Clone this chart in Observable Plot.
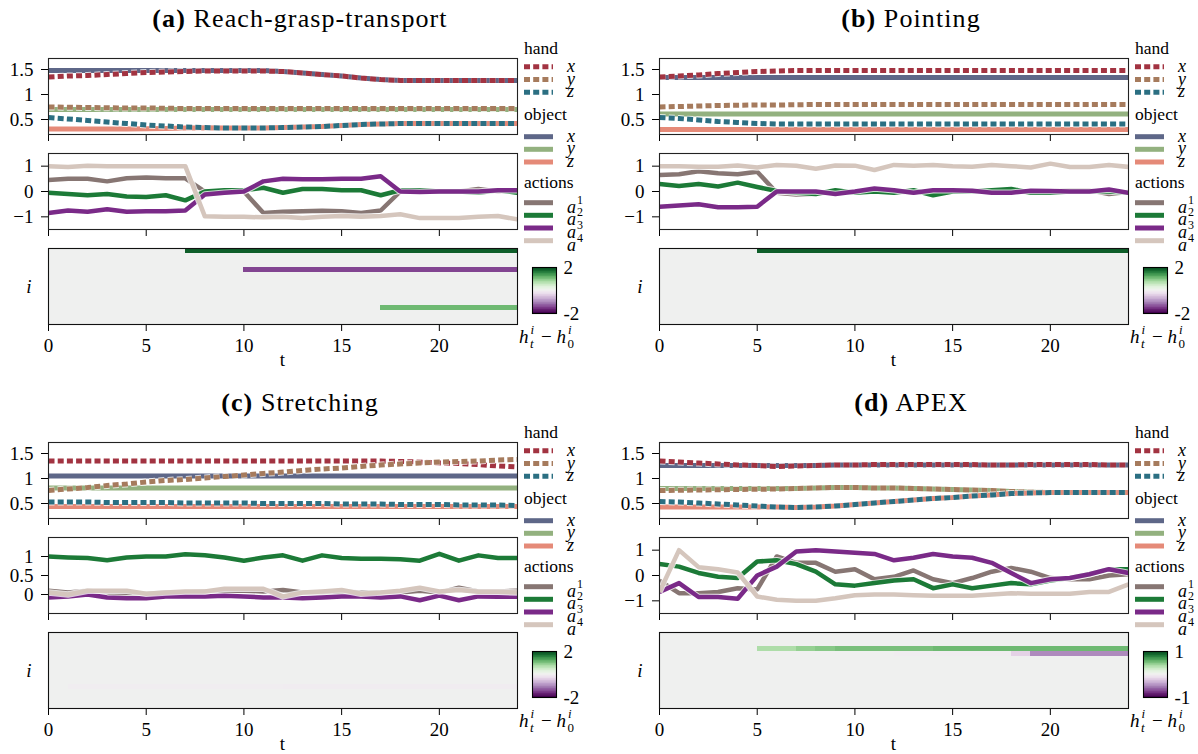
<!DOCTYPE html>
<html><head><meta charset="utf-8">
<script src="https://cdn.jsdelivr.net/npm/d3@7"></script>
<script src="https://cdn.jsdelivr.net/npm/@observablehq/plot@0.6"></script>
<style>
html,body{margin:0;padding:0;background:#fff;}
#root{position:relative;width:1198px;height:754px;overflow:hidden;background:#fff;}
#root svg{position:absolute;}
</style></head><body><div id="root"></div>
<script>
// ---------------- DATA ----------------
const tTicks = [0, 5, 10, 15, 20];
const posTicks = [0.5, 1, 1.5];
const posDomain = [0.2, 1.72];
const actTicksWide = [-1, 0, 1];
const actTicksNarrow = [0, 0.5, 1];
const handKeys = ["x", "y", "z"];
const objectKeys = ["x", "y", "z"];
const actionKeys = ["1", "2", "3", "4"];
const handColors = ["#a23341", "#a67b5d", "#2b6f82"];
const objectColors = ["#5e6788", "#93b17f", "#e58a78"];
const actionColors = ["#877673", "#1c7a37", "#7a2a88", "#d5c6bd"];

// (a) Reach-grasp-transport
const a_handX = [1.35,1.37,1.38,1.40,1.42,1.44,1.45,1.46,1.47,1.47,1.47,1.47,1.46,1.43,1.40,1.37,1.33,1.30,1.28,1.28,1.28,1.28,1.28,1.28,1.28];
const a_handY = [0.75,0.745,0.74,0.735,0.73,0.73,0.725,0.72,0.72,0.72,0.72,0.72,0.72,0.72,0.72,0.72,0.72,0.72,0.72,0.72,0.72,0.72,0.72,0.72,0.72];
const a_handZ = [0.54,0.51,0.48,0.45,0.42,0.39,0.37,0.35,0.34,0.33,0.33,0.33,0.34,0.35,0.36,0.38,0.40,0.41,0.42,0.42,0.42,0.42,0.42,0.42,0.42];
const a_objX = [1.48,1.48,1.48,1.48,1.48,1.48,1.48,1.48,1.48,1.48,1.48,1.48,1.46,1.43,1.40,1.37,1.33,1.30,1.28,1.28,1.28,1.28,1.28,1.28,1.28];
const a_objY = [0.70,0.70,0.70,0.70,0.70,0.70,0.70,0.70,0.70,0.70,0.70,0.70,0.70,0.70,0.70,0.70,0.70,0.70,0.70,0.70,0.70,0.70,0.70,0.70,0.70];
const a_objZ = [0.31,0.31,0.31,0.31,0.31,0.315,0.32,0.33,0.335,0.33,0.33,0.33,0.34,0.35,0.36,0.38,0.40,0.41,0.42,0.42,0.42,0.42,0.42,0.42,0.42];
const a_act1 = [0.45,0.5,0.5,0.4,0.52,0.55,0.52,0.52,0.0,0.0,0.0,-0.85,-0.8,-0.78,-0.76,-0.78,-0.85,-0.75,0.0,0.05,0.0,0.0,0.1,0.0,0.05];
const a_act2 = [-0.05,-0.1,-0.15,-0.1,-0.2,-0.22,-0.15,-0.35,0.0,0.05,0.05,0.15,-0.05,0.1,0.1,0.05,0.05,-0.15,0.05,0.05,0.0,0.0,-0.05,0.05,-0.05];
const a_act3 = [-0.85,-0.75,-0.8,-0.7,-0.8,-0.78,-0.78,-0.75,-0.12,-0.05,0.0,0.4,0.5,0.48,0.48,0.5,0.5,0.6,0.0,-0.02,0.0,0.0,0.0,0.05,0.05];
const a_act4 = [1.0,0.97,1.02,1.0,1.0,1.0,1.0,1.0,-0.98,-1.0,-1.0,-1.02,-1.0,-1.05,-1.0,-0.97,-1.0,-0.97,-0.9,-1.05,-1.05,-1.05,-1.0,-0.97,-1.1];
const a_heatRows = [0, 4, 12];
const a_heatVals = [
  [0,0,0,0,0,0,0,1.8,1.8,1.8,1.8,1.8,1.8,1.8,1.8,1.8,1.8,1.8,1.8,1.8,1.8,1.8,1.8,1.8],
  [0,0,0,0,0,0,0,0,0,0,-1.45,-1.45,-1.45,-1.45,-1.45,-1.45,-1.45,-1.45,-1.45,-1.45,-1.45,-1.45,-1.45,-1.45],
  [0,0,0,0,0,0,0,0,0,0,0,0,0,0,0,0,0,1.1,1.1,1.1,1.1,1.1,1.1,1.1]
];
const a_cbar = [-2, 2];

// (b) Pointing
const b_handX = [1.35,1.37,1.39,1.42,1.44,1.46,1.47,1.48,1.48,1.48,1.48,1.48,1.48,1.48,1.48,1.48,1.48,1.48,1.48,1.48,1.48,1.48,1.48,1.48,1.48];
const b_handY = [0.75,0.76,0.77,0.78,0.785,0.79,0.79,0.795,0.80,0.80,0.80,0.80,0.80,0.80,0.80,0.80,0.80,0.80,0.80,0.80,0.80,0.80,0.80,0.80,0.80];
const b_handZ = [0.54,0.52,0.49,0.46,0.44,0.42,0.41,0.41,0.41,0.41,0.41,0.41,0.41,0.41,0.41,0.41,0.41,0.41,0.41,0.41,0.41,0.41,0.41,0.41,0.41];
const b_objX = [1.34,1.34,1.34,1.34,1.34,1.34,1.34,1.34,1.34,1.34,1.34,1.34,1.34,1.34,1.34,1.34,1.34,1.34,1.34,1.34,1.34,1.34,1.34,1.34,1.34];
const b_objY = [0.61,0.61,0.61,0.61,0.61,0.61,0.61,0.61,0.61,0.61,0.61,0.61,0.61,0.61,0.61,0.61,0.61,0.61,0.61,0.61,0.61,0.61,0.61,0.61,0.61];
const b_objZ = [0.30,0.30,0.30,0.30,0.30,0.30,0.30,0.30,0.30,0.30,0.30,0.30,0.30,0.30,0.30,0.30,0.30,0.30,0.30,0.30,0.30,0.30,0.30,0.30,0.30];
const b_act1 = [0.65,0.68,0.8,0.72,0.68,0.78,-0.05,-0.12,-0.1,0.0,-0.05,0.05,0.0,-0.05,0.0,0.02,0.05,0.0,0.05,-0.05,0.0,0.05,0.05,-0.1,-0.02];
const b_act2 = [0.3,0.22,0.3,0.2,0.35,0.18,0.02,-0.05,-0.1,0.05,-0.05,0.0,-0.05,0.05,-0.15,0.0,0.0,0.05,0.1,-0.05,-0.05,0.0,0.0,0.0,-0.05];
const b_act3 = [-0.6,-0.55,-0.5,-0.62,-0.62,-0.6,0.0,0.0,0.0,-0.1,0.0,0.12,0.05,-0.05,0.05,0.05,0.03,-0.05,-0.05,0.03,0.02,0.0,0.0,0.08,-0.05];
const b_act4 = [1.0,1.0,0.98,0.98,1.03,0.95,1.05,1.02,0.9,1.03,1.02,0.85,1.05,1.02,1.05,1.0,0.98,1.05,1.0,0.95,1.1,0.97,0.97,1.05,0.97];
const b_heatRows = [0];
const b_heatVals = [
  [0,0,0,0,0,1.8,1.8,1.8,1.8,1.8,1.8,1.8,1.8,1.8,1.8,1.8,1.8,1.8,1.8,1.8,1.8,1.8,1.8,1.8]
];
const b_cbar = [-2, 2];

// (c) Stretching
const c_handX = [1.35,1.35,1.35,1.35,1.35,1.35,1.35,1.35,1.35,1.35,1.35,1.35,1.35,1.35,1.35,1.35,1.35,1.35,1.34,1.33,1.31,1.30,1.28,1.25,1.23];
const c_handY = [0.76,0.79,0.82,0.86,0.89,0.93,0.96,0.98,1.01,1.04,1.07,1.10,1.13,1.16,1.19,1.21,1.24,1.27,1.29,1.31,1.33,1.34,1.35,1.37,1.38];
const c_handZ = [0.53,0.53,0.53,0.52,0.52,0.52,0.52,0.51,0.51,0.51,0.51,0.50,0.50,0.50,0.50,0.49,0.49,0.49,0.48,0.48,0.48,0.47,0.47,0.47,0.46];
const c_objX = [1.05,1.05,1.05,1.05,1.05,1.05,1.05,1.05,1.05,1.05,1.05,1.05,1.05,1.05,1.05,1.05,1.05,1.05,1.05,1.05,1.05,1.05,1.05,1.05,1.05];
const c_objY = [0.81,0.81,0.81,0.81,0.81,0.81,0.81,0.81,0.81,0.81,0.81,0.81,0.81,0.81,0.81,0.81,0.81,0.81,0.81,0.81,0.81,0.81,0.81,0.81,0.81];
const c_objZ = [0.44,0.44,0.44,0.44,0.44,0.44,0.44,0.44,0.44,0.44,0.44,0.44,0.44,0.44,0.44,0.44,0.44,0.44,0.44,0.44,0.44,0.44,0.44,0.44,0.44];
const c_act1 = [0.1,0.05,0.1,0.05,0.0,0.02,0.05,0.05,0.08,0.1,0.1,0.08,0.12,0.05,0.05,0.08,0.05,0.05,0.05,0.1,0.05,0.18,0.08,0.08,0.1];
const c_act2 = [1.0,0.975,0.96,0.90,0.975,1.0,1.0,1.06,1.03,0.975,0.89,0.975,1.03,0.89,1.03,0.96,0.94,0.94,0.93,0.89,1.07,0.89,1.03,0.96,0.96];
const c_act3 = [-0.08,-0.05,0.0,-0.08,-0.1,-0.1,-0.05,-0.05,-0.05,-0.03,-0.05,-0.08,-0.08,-0.1,-0.08,-0.05,-0.05,-0.08,-0.05,-0.15,-0.03,-0.15,-0.05,-0.06,-0.06];
const c_act4 = [0.05,0.0,0.1,0.1,0.1,0.02,0.05,0.08,0.08,0.15,0.15,0.15,-0.05,0.05,0.08,0.12,0.02,0.05,0.1,0.18,0.08,0.12,0.07,0.07,0.05];
const c_heatRows = [11];
const c_heatVals = [
  [0,-0.06,-0.06,-0.06,-0.06,-0.06,-0.06,-0.06,-0.06,-0.06,-0.06,-0.06,-0.08,-0.08,-0.08,-0.08,-0.08,-0.08,-0.08,-0.08,-0.08,-0.08,-0.08,-0.08]
];
const c_cbar = [-2, 2];

// (d) APEX
const d_handX = [1.35,1.33,1.31,1.29,1.27,1.26,1.24,1.25,1.26,1.27,1.27,1.28,1.28,1.28,1.28,1.28,1.28,1.27,1.27,1.28,1.28,1.28,1.28,1.27,1.27];
const d_handY = [0.76,0.765,0.77,0.775,0.78,0.785,0.79,0.80,0.81,0.82,0.82,0.81,0.81,0.80,0.79,0.78,0.77,0.76,0.74,0.73,0.72,0.72,0.72,0.72,0.72];
const d_handZ = [0.54,0.53,0.51,0.49,0.47,0.45,0.43,0.42,0.43,0.45,0.48,0.51,0.54,0.57,0.60,0.62,0.65,0.67,0.70,0.71,0.72,0.72,0.72,0.72,0.72];
const d_objX = [1.26,1.26,1.26,1.26,1.26,1.26,1.26,1.26,1.26,1.27,1.27,1.27,1.27,1.27,1.27,1.27,1.27,1.27,1.27,1.27,1.27,1.27,1.27,1.27,1.27];
const d_objY = [0.80,0.80,0.80,0.80,0.80,0.80,0.80,0.80,0.81,0.82,0.82,0.81,0.81,0.80,0.79,0.78,0.77,0.76,0.74,0.73,0.72,0.72,0.72,0.72,0.72];
const d_objZ = [0.43,0.43,0.43,0.43,0.43,0.43,0.43,0.42,0.43,0.45,0.48,0.51,0.54,0.57,0.60,0.62,0.65,0.67,0.70,0.71,0.72,0.72,0.72,0.72,0.72];
const d_act1 = [-0.2,-0.7,-0.7,-0.65,-0.5,-0.55,0.75,0.5,0.5,0.15,0.25,-0.15,-0.05,0.2,-0.15,-0.3,-0.1,0.15,0.3,0.15,-0.1,-0.15,-0.15,0.0,0.05];
const d_act2 = [0.45,0.35,0.1,-0.05,-0.1,0.55,0.6,0.45,0.15,-0.35,-0.4,-0.3,-0.2,-0.15,-0.5,-0.35,-0.5,-0.4,-0.3,-0.35,-0.2,-0.1,0.05,0.25,0.25];
const d_act3 = [-0.65,-0.3,-0.85,-0.85,-0.92,0.0,0.35,0.95,1.0,0.95,0.9,0.85,0.6,0.7,0.85,0.75,0.7,0.5,0.1,-0.3,-0.15,-0.1,0.05,0.25,0.1];
const d_act4 = [-0.65,1.0,0.33,0.25,0.12,-0.83,-0.96,-1.0,-1.0,-0.9,-0.78,-0.75,-0.75,-0.78,-0.8,-0.8,-0.8,-0.75,-0.7,-0.72,-0.72,-0.72,-0.65,-0.65,-0.35];
const d_heatRows = [3, 4];
const d_heatVals = [
  [0,0,0,0,0,0.36,0.36,0.44,0.48,0.52,0.52,0.52,0.52,0.52,0.55,0.55,0.55,0.55,0.55,0.55,0.55,0.55,0.55,0.55],
  [0,0,0,0,0,0,0,0,0,0,0,0,-0.03,-0.03,-0.03,-0.03,-0.03,-0.03,-0.2,-0.5,-0.5,-0.5,-0.5,-0.5]
];
const d_cbar = [-1, 1];

const panels = [
  {tag: "(a)", name: "Reach-grasp-transport", col: 0, row: 0,
   hand: [a_handX, a_handY, a_handZ], obj: [a_objX, a_objY, a_objZ], act: [a_act1, a_act2, a_act3, a_act4],
   actDomain: [-1.5, 1.5], actTicks: actTicksWide, heatRows: a_heatRows, heatVals: a_heatVals, cbar: a_cbar},
  {tag: "(b)", name: "Pointing", col: 1, row: 0,
   hand: [b_handX, b_handY, b_handZ], obj: [b_objX, b_objY, b_objZ], act: [b_act1, b_act2, b_act3, b_act4],
   actDomain: [-1.5, 1.5], actTicks: actTicksWide, heatRows: b_heatRows, heatVals: b_heatVals, cbar: b_cbar},
  {tag: "(c)", name: "Stretching", col: 0, row: 1,
   hand: [c_handX, c_handY, c_handZ], obj: [c_objX, c_objY, c_objZ], act: [c_act1, c_act2, c_act3, c_act4],
   actDomain: [-0.5, 1.5], actTicks: actTicksNarrow, heatRows: c_heatRows, heatVals: c_heatVals, cbar: c_cbar},
  {tag: "(d)", name: "APEX", col: 1, row: 1,
   hand: [d_handX, d_handY, d_handZ], obj: [d_objX, d_objY, d_objZ], act: [d_act1, d_act2, d_act3, d_act4],
   actDomain: [-1.5, 1.5], actTicks: actTicksWide, heatRows: d_heatRows, heatVals: d_heatVals, cbar: d_cbar}
];

// ---------------- LAYOUT ----------------
const FONT = '"Liberation Serif", "Times New Roman", serif';
const COL_DX = [0, 611];
const ROW_DY = [0, 384];
const FX = 48, FW = 469, FH = 76;
const POS_TOP = 58, ACT_TOP = 153, HEAT_TOP = 248;
const ML = 48, MR = 1, MT = 1, MB = 10;
const DOT = "6,3.2";
const root = document.getElementById("root");
const fmt = d => (d < 0 ? "\u2212" : "") + Math.abs(d);
const baseStyle = {fontFamily: FONT, fontSize: "19px", background: "transparent", overflow: "visible", color: "#000"};

function place(svg, left, top) {
  svg.style.left = left + "px";
  svg.style.top = top + "px";
  svg.style.maxWidth = "none";
  root.appendChild(svg);
}

function lineMarks(values, color, width, dash) {
  const o = {x: (d, i) => i, y: d => d, clip: true, strokeLinejoin: "round", strokeLinecap: "butt"};
  if (dash) o.strokeDasharray = dash;
  return [
    Plot.line(values, {...o, stroke: "white", strokeWidth: width + 2, strokeOpacity: 0.75}),
    Plot.line(values, {...o, stroke: color, strokeWidth: width})
  ];
}

function linePlot(marks, yDomain, yTicks) {
  return Plot.plot({
    width: ML + FW + MR, height: MT + FH + MB,
    marginLeft: ML, marginRight: MR, marginTop: MT, marginBottom: MB,
    style: baseStyle,
    x: {domain: [0, 24], ticks: tTicks, tickSize: 7, tickFormat: () => "", label: null},
    y: {domain: yDomain, ticks: yTicks, tickSize: 7, tickPadding: 8, tickFormat: fmt, label: null},
    marks: [...marks, Plot.frame({stroke: "#222", strokeWidth: 1.1})]
  });
}

for (const p of panels) {
  const dx = COL_DX[p.col], dy = ROW_DY[p.row];
  // positions
  const pm = [];
  p.obj.forEach((v, k) => pm.push(...lineMarks(v, objectColors[k], 5, null)));
  p.hand.forEach((v, k) => pm.push(...lineMarks(v, handColors[k], 5, DOT)));
  place(linePlot(pm, posDomain, posTicks), dx + FX - ML, dy + POS_TOP - MT);
  // actions
  const am = [];
  p.act.forEach((v, k) => am.push(...lineMarks(v, actionColors[k], 4.5, null)));
  place(linePlot(am, p.actDomain, p.actTicks), dx + FX - ML, dy + ACT_TOP - MT);
  // heatmap
  const cells = [];
  for (let r = 0; r < 16; r++) {
    const k = p.heatRows.indexOf(r);
    for (let t = 0; t < 24; t++) cells.push({t, r, v: k >= 0 ? p.heatVals[k][t] : 0});
  }
  const colorOpt = {type: "linear", scheme: "PRGn", domain: p.cbar};
  const heat = Plot.plot({
    width: ML + FW + MR, height: MT + FH + 40,
    marginLeft: ML, marginRight: MR, marginTop: MT, marginBottom: 40,
    style: baseStyle,
    x: {domain: [0, 24], ticks: tTicks, tickSize: 7, tickPadding: 7, tickFormat: d => String(d), label: null},
    y: {domain: [16, 0], axis: null},
    color: colorOpt,
    marks: [
      Plot.rect(cells, {x1: "t", x2: d => d.t + 1, y1: "r", y2: d => d.r + 1, fill: "v", shapeRendering: "crispEdges"}),
      Plot.frame({stroke: "#111", strokeWidth: 1.1})
    ]
  });
  place(heat, dx + FX - ML, dy + HEAT_TOP - MT);
  // colorbar
  const [lo, hi] = p.cbar;
  const bands = d3.range(64).map(i => ({y1: lo + (hi - lo) * i / 64, y2: lo + (hi - lo) * (i + 1) / 64}));
  const cb = Plot.plot({
    width: 24 + 40, height: 46 + 2,
    marginLeft: 0, marginRight: 40, marginTop: 1, marginBottom: 1,
    style: baseStyle,
    x: {domain: [0, 1], axis: null},
    y: {domain: p.cbar, axis: "right", ticks: p.cbar, tickSize: 0, tickPadding: 7, tickFormat: d => String(d), label: null},
    color: colorOpt,
    marks: [
      Plot.rect(bands, {x1: () => 0, x2: () => 1, y1: "y1", y2: "y2", fill: d => (d.y1 + d.y2) / 2, shapeRendering: "crispEdges"}),
      Plot.frame({stroke: "#000", strokeWidth: 1.1})
    ]
  });
  place(cb, dx + 532, dy + 266);
}

// ---------------- OVERLAY TEXT (titles, legends, axis labels) ----------------
const ov = d3.create("svg").attr("width", 1198).attr("height", 754)
  .style("left", "0px").style("top", "0px").style("font-family", FONT).style("pointer-events", "none");

function txt(x, y, s, size, opts = {}) {
  const t = ov.append("text").attr("x", x).attr("y", y).attr("font-size", size)
    .attr("font-family", FONT).text(s);
  if (opts.italic) t.attr("font-style", "italic");
  if (opts.anchor) t.attr("text-anchor", opts.anchor);
  return t;
}

for (const p of panels) {
  const dx = COL_DX[p.col], dy = ROW_DY[p.row];
  // title
  const tt = ov.append("text").attr("x", 300 + dx).attr("y", 27 + dy).attr("text-anchor", "middle")
    .attr("font-family", FONT).attr("font-size", 26).attr("letter-spacing", 1.1);
  tt.append("tspan").attr("font-weight", "bold").text(p.tag);
  tt.append("tspan").text(" " + p.name);
  // legend
  const L = 524 + dx;
  txt(L, 54 + dy, "hand", 17.5);
  const hy = [66.7, 79.5, 92.3];
  hy.forEach((y, k) => {
    ov.append("line").attr("x1", L).attr("x2", L + 29).attr("y1", y + dy).attr("y2", y + dy)
      .attr("stroke", handColors[k]).attr("stroke-width", 5).attr("stroke-dasharray", DOT);
    txt(L + 43, y + 5 + dy, handKeys[k], 18, {italic: true});
  });
  txt(L, 120 + dy, "object", 17.5);
  const oy = [136.7, 149.3, 162];
  oy.forEach((y, k) => {
    ov.append("line").attr("x1", L).attr("x2", L + 29).attr("y1", y + dy).attr("y2", y + dy)
      .attr("stroke", objectColors[k]).attr("stroke-width", 5);
    txt(L + 43, y + 5 + dy, objectKeys[k], 18, {italic: true});
  });
  txt(L, 188 + dy, "actions", 17.5);
  const ay = [202.7, 215.3, 228, 240.7];
  ay.forEach((y, k) => {
    ov.append("line").attr("x1", L).attr("x2", L + 29).attr("y1", y + dy).attr("y2", y + dy)
      .attr("stroke", actionColors[k]).attr("stroke-width", 5);
    txt(L + 43, y + 10 + dy, "a", 18, {italic: true});
    txt(L + 53, y + 1 + dy, actionKeys[k], 12);
  });
  // axis labels
  txt(29 + dx, 293 + dy, "i", 19, {italic: true, anchor: "middle"});
  txt(282.5 + dx, 366 + dy, "t", 19, {anchor: "middle"});
  // colorbar label  h_t^i − h_0^i
  const bx = 519 + dx, by = 343 + dy;
  txt(bx, by, "h", 19, {italic: true});
  txt(bx + 11, by + 4.5, "t", 13, {italic: true});
  txt(bx + 11.5, by - 9, "i", 13, {italic: true});
  txt(bx + 22, by, "\u2212", 19);
  txt(bx + 37.5, by, "h", 19, {italic: true});
  txt(bx + 48.5, by + 4.5, "0", 13);
  txt(bx + 49, by - 9, "i", 13, {italic: true});
}
root.appendChild(ov.node());
</script></body></html>
